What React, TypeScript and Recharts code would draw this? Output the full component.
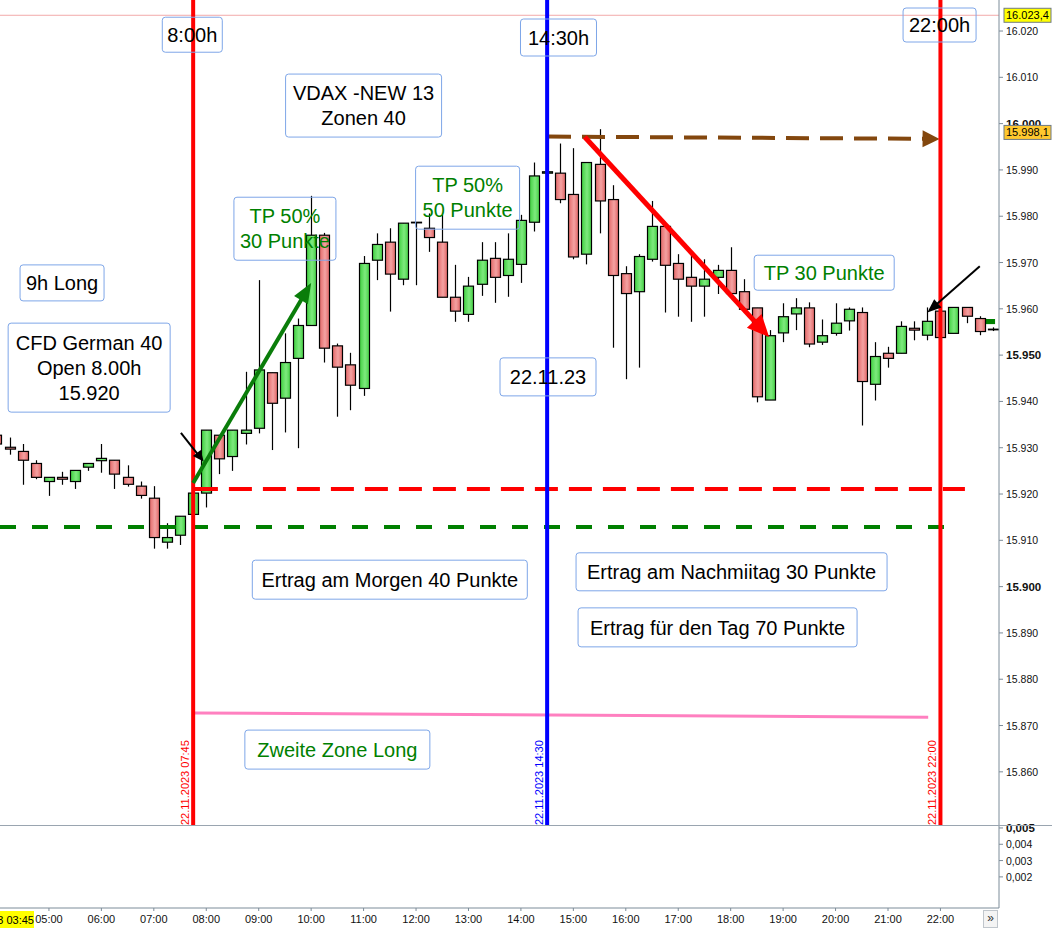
import { Bar, ComposedChart, Line, ReferenceArea, ReferenceDot, ReferenceLine, XAxis, YAxis } from 'recharts';

const FONT = '"Liberation Sans", Arial, sans-serif';
const AXIS = '#7d8c99';

// 15-min candles, CFD German 40, 22.11.2023
const TIMES = [
  '04:00', '04:15', '04:30', '04:45', '05:00', '05:15', '05:30', '05:45',
  '06:00', '06:15', '06:30', '06:45', '07:00', '07:15', '07:30', '07:45',
  '08:00', '08:15', '08:30', '08:45', '09:00', '09:15', '09:30', '09:45',
  '10:00', '10:15', '10:30', '10:45', '11:00', '11:15', '11:30', '11:45',
  '12:00', '12:15', '12:30', '12:45', '13:00', '13:15', '13:30', '13:45',
  '14:00', '14:15', '14:30', '14:45', '15:00', '15:15', '15:30', '15:45',
  '16:00', '16:15', '16:30', '16:45', '17:00', '17:15', '17:30', '17:45',
  '18:00', '18:15', '18:30', '18:45', '19:00', '19:15', '19:30', '19:45',
  '20:00', '20:15', '20:30', '20:45', '21:00', '21:15', '21:30', '21:45',
  '22:00', '22:15', '22:30', '22:45', '23:00',
];
const OPEN = [
  15932.7, 15930.1, 15929.2, 15926.6, 15922.7, 15923.6, 15922.7, 15925.8,
  15927.2, 15927.3, 15923.6, 15921.7, 15919.1, 15909.6, 15911.1, 15915.6,
  15920.2, 15932.7, 15928.1, 15933.1, 15934.2, 15946.2, 15940.7, 15949.3,
  15956.4, 15975.9, 15952.0, 15947.9, 15942.8, 15970.5, 15974.4, 15966.4,
  15978.6, 15977.4, 15974.4, 15962.5, 15958.8, 15965.3, 15970.9, 15967.2,
  15969.6, 15978.7, 15989.3, 15989.3, 15984.7, 15971.8, 15991.2, 15983.6,
  15967.6, 15963.7, 15970.7, 15977.8, 15969.8, 15966.8, 15964.9, 15966.8,
  15968.3, 15963.7, 15960.2, 15940.3, 15954.8, 15958.9, 15960.2, 15952.8,
  15954.7, 15957.4, 15959.2, 15943.7, 15950.4, 15950.4, 15955.8, 15954.3,
  15959.5, 15954.7, 15960.3, 15957.9, 15955.5,
];
const HIGH = [
  15933.5, 15932.2, 15930.8, 15927.3, 15923.6, 15924.8, 15925.1, 15926.6,
  15930.8, 15927.3, 15926.2, 15922.7, 15921.7, 15913.7, 15915.2, 15920.2,
  15933.8, 15932.7, 15933.8, 15946.4, 15966.2, 15946.2, 15954.7, 15957.9,
  15984.4, 15976.4, 15952.5, 15950.5, 15971.4, 15976.3, 15977.4, 15978.5,
  15978.7, 15980.6, 15980.3, 15969.5, 15966.9, 15974.4, 15974.4, 15976.3,
  15980.3, 15991.6, 15989.6, 15995.7, 15994.7, 15991.6, 15998.8, 15986.7,
  15969.2, 15971.8, 15983.3, 15977.8, 15971.8, 15971.8, 15970.7, 15969.5,
  15973.3, 15966.4, 15960.2, 15955.4, 15961.2, 15962.3, 15961.4, 15957.7,
  15961.2, 15960.3, 15960.3, 15952.8, 15951.8, 15957.3, 15957.3, 15960.3,
  15960.0, 15960.3, 15960.3, 15958.4, 15956.0,
];
const LOW = [
  15930.0, 15928.5, 15922.0, 15923.2, 15919.6, 15922.0, 15921.1, 15925.0,
  15924.6, 15921.1, 15921.6, 15919.0, 15908.2, 15908.2, 15909.0, 15915.6,
  15917.1, 15924.3, 15925.0, 15930.7, 15933.1, 15929.5, 15933.3, 15929.9,
  15956.4, 15948.4, 15936.7, 15938.1, 15941.2, 15966.2, 15959.4, 15965.1,
  15965.1, 15972.3, 15962.5, 15957.2, 15957.2, 15962.8, 15961.3, 15962.6,
  15965.6, 15976.7, 15989.3, 15982.8, 15970.7, 15969.6, 15976.3, 15951.6,
  15944.8, 15947.3, 15970.2, 15959.2, 15958.3, 15957.2, 15958.3, 15963.2,
  15962.5, 15959.5, 15939.8, 15940.3, 15952.8, 15955.4, 15951.7, 15952.2,
  15954.2, 15955.3, 15934.8, 15940.2, 15947.3, 15950.4, 15953.2, 15953.2,
  15953.8, 15954.7, 15956.9, 15954.3, 15955.2,
];
const CLOSE = [
  15930.8, 15929.7, 15927.3, 15923.6, 15923.6, 15923.2, 15925.1, 15926.6,
  15927.7, 15924.3, 15922.1, 15919.7, 15910.6, 15910.6, 15915.2, 15920.2,
  15933.8, 15927.6, 15933.8, 15933.8, 15946.8, 15939.6, 15948.4, 15956.4,
  15975.9, 15951.5, 15947.4, 15943.5, 15969.8, 15973.9, 15967.5, 15978.5,
  15978.7, 15975.4, 15962.5, 15959.5, 15964.9, 15970.5, 15966.8, 15970.7,
  15979.1, 15988.7, 15989.6, 15983.6, 15971.2, 15991.6, 15983.3, 15967.2,
  15963.3, 15971.3, 15977.8, 15969.4, 15966.4, 15964.9, 15966.4, 15968.3,
  15963.3, 15959.9, 15941.0, 15954.2, 15958.3, 15960.2, 15952.4, 15954.2,
  15956.9, 15959.9, 15944.3, 15949.7, 15949.3, 15956.2, 15955.4, 15957.3,
  15953.8, 15960.3, 15958.4, 15955.1, 15955.6,
];

const HOUR_LABELS = [
  '05:00', '06:00', '07:00', '08:00', '09:00', '10:00', '11:00', '12:00', '13:00',
  '14:00', '15:00', '16:00', '17:00', '18:00', '19:00', '20:00', '21:00', '22:00',
];
const PRICE_TICKS = [
  15860, 15870, 15880, 15890, 15900, 15910, 15920, 15930, 15940,
  15950, 15960, 15970, 15980, 15990, 16000, 16010, 16020,
];
const IND_TICKS = [0.002, 0.003, 0.004, 0.005];

const DAY_HIGH = 16023.4;
const TARGET = 15998.1;

const SESSION_LINES = [
  { time: '07:45', color: '#ff0000', label: '22.11.2023 07:45' },
  { time: '14:30', color: '#0000ff', label: '22.11.2023 14:30' },
  { time: '22:00', color: '#ff0000', label: '22.11.2023 22:00' },
];

const ANNOTATIONS = [
  { lines: ['8:00h'], time: '07:44', price: 16019.2, w: 60, h: 35, color: '#000' },
  { lines: ['14:30h'], time: '14:43', price: 16018.6, w: 76, h: 37, color: '#000' },
  { lines: ['22:00h'], time: '21:59', price: 16021.3, w: 73, h: 34, color: '#000' },
  { lines: ['VDAX -NEW 13', 'Zonen 40'], time: '11:00', price: 16003.9, w: 156, h: 63, color: '#000' },
  { lines: ['TP 50%', '30 Punkte'], time: '09:30', price: 15977.3, w: 102, h: 63, color: '#008000' },
  { lines: ['TP 50%', '50 Punkte'], time: '12:59', price: 15984.0, w: 104, h: 63, color: '#008000' },
  { lines: ['9h Long'], time: '05:15', price: 15965.6, w: 84, h: 36, color: '#000' },
  { lines: ['CFD German 40', 'Open 8.00h', '15.920'], time: '05:46', price: 15947.3, w: 162, h: 89, color: '#000' },
  { lines: ['22.11.23'], time: '14:31', price: 15945.3, w: 96, h: 38, color: '#000' },
  { lines: ['TP 30 Punkte'], time: '19:47', price: 15967.8, w: 140, h: 35, color: '#008000' },
  { lines: ['Ertrag am Morgen 40 Punkte'], time: '11:30', price: 15901.5, w: 275, h: 39, color: '#000' },
  { lines: ['Ertrag am Nachmiitag 30 Punkte'], time: '18:01', price: 15903.2, w: 311, h: 38, color: '#000' },
  { lines: ['Ertrag für den Tag 70 Punkte'], time: '17:45', price: 15891.2, w: 279, h: 39, color: '#000' },
  { lines: ['Zweite Zone Long'], time: '10:30', price: 15864.8, w: 185, h: 39, color: '#008000' },
];

const ARROWS = [
  { from: ['07:45', 15922.4], to: ['10:00', 15965.6], color: '#0a7d0a', width: 4, head: 20, headW: 16 },
  { from: ['15:13', 15997.1], to: ['18:44', 15953.9], color: '#ff0000', width: 5, head: 22, headW: 20 },
  { from: ['07:31', 15933.2], to: ['07:57', 15927.0], color: '#000', width: 2, head: 11, headW: 10 },
  { from: ['22:45', 15969.2], to: ['21:45', 15959.2], color: '#000', width: 2, head: 14, headW: 11 },
];

const toMin = (s: string) => {
  const [h, m] = s.split(':').map(Number);
  return h * 60 + m;
};

const X_DOMAIN = [244, 1387];
const Y_DOMAIN = [15848.3, 16026.7];

const candles = TIMES.map((t, i) => ({
  t: toMin(t),
  range: [LOW[i], HIGH[i]],
  o: OPEN[i],
  h: HIGH[i],
  l: LOW[i],
  c: CLOSE[i],
}));

const fmtPrice = (v: number) => {
  const s = Math.round(v).toString();
  return `${s.slice(0, -3)}.${s.slice(-3)}`;
};

function Candle(props: any) {
  const { x, y, width, height, payload } = props;
  if (!payload || x == null) return null;
  const { o, h, l, c } = payload;
  const cx = Math.round(x + width / 2) + 0.5;
  const top = Math.min(y, y + height);
  const bot = Math.max(y, y + height);
  const k = h - l > 0 ? (bot - top) / (h - l) : 0;
  const py = (v: number) => top + (h - v) * k;
  const up = c >= o;
  const bt = py(Math.max(o, c));
  const bb = py(Math.min(o, c));
  return (
    <g>
      <line x1={cx} x2={cx} y1={top} y2={bot} stroke="#000" strokeWidth={1.2} />
      <rect
        x={cx - 5}
        y={bt}
        width={10}
        height={Math.max(bb - bt, 0.6)}
        fill={up ? 'url(#candle-up)' : 'url(#candle-down)'}
        stroke="#000"
        strokeWidth={1.2}
      />
    </g>
  );
}

function PriceTick({ x, y, payload }: any) {
  const bold = payload.value % 50 === 0;
  return (
    <text x={x} y={y} dy={4} textAnchor="start" fontSize={bold ? 11.5 : 10.5} fontWeight={bold ? 'bold' : 'normal'} fontFamily={FONT} fill="#111">
      {fmtPrice(payload.value)}
    </text>
  );
}

function IndTick({ x, y, payload }: any) {
  const bold = payload.value === 0.005;
  return (
    <text x={x} y={y} dy={4} textAnchor="start" fontSize={bold ? 11.5 : 10.5} fontWeight={bold ? 'bold' : 'normal'} fontFamily={FONT} fill="#111">
      {payload.value.toFixed(3).replace('.', ',')}
    </text>
  );
}

const arrowShape = (color: string, width: number, head: number, headW: number, dash?: string) =>
  (p: any) => {
    const { x1, y1, x2, y2 } = p;
    const dx = x2 - x1;
    const dy = y2 - y1;
    const len = Math.hypot(dx, dy) || 1;
    const ux = dx / len;
    const uy = dy / len;
    const bx = x2 - ux * head;
    const by = y2 - uy * head;
    const nx = -uy;
    const ny = ux;
    return (
      <g>
        <line x1={x1} y1={y1} x2={bx + ux * 2} y2={by + uy * 2} stroke={color} strokeWidth={width} strokeDasharray={dash} />
        <polygon
          points={`${x2},${y2} ${bx + (nx * headW) / 2},${by + (ny * headW) / 2} ${bx - (nx * headW) / 2},${by - (ny * headW) / 2}`}
          fill={color}
        />
      </g>
    );
  };

function PriceMarker({ viewBox, value, bg }: any) {
  if (!viewBox) return null;
  const x = viewBox.x + viewBox.width + 5;
  const y = viewBox.y;
  return (
    <g>
      <rect x={x} y={y - 7} width={47} height={14} fill={bg} stroke="#6f7a84" strokeWidth={1} />
      <text x={x + 2} y={y} dy={4} fontSize={11} fontFamily={FONT} fill="#000">
        {value}
      </text>
    </g>
  );
}

function AnnotationBox({ cx, cy, a }: any) {
  const n = a.lines.length;
  const lh = 25;
  return (
    <g>
      <rect x={cx - a.w / 2} y={cy - a.h / 2} width={a.w} height={a.h} rx={3} fill="none" stroke="#7ea6e8" strokeWidth={1} />
      {a.lines.map((s: string, i: number) => (
        <text key={i} x={cx} y={cy + (i - (n - 1) / 2) * lh} dy="0.36em" textAnchor="middle" fontSize={20} fontFamily={FONT} fill={a.color}>
          {s}
        </text>
      ))}
    </g>
  );
}

export default function App() {
  return (
    <div style={{ position: 'relative', width: 1052, height: 928, background: '#fff', fontFamily: FONT, overflow: 'hidden' }}>
      <style>{'body{margin:0}'}</style>
      <ComposedChart width={1052} height={826} data={candles} margin={{ top: 0, right: 0, bottom: 0, left: 0 }}>
        <defs>
          <linearGradient id="candle-up" x1="0" y1="0" x2="1" y2="0">
            <stop offset="0%" stopColor="#3fcf3f" />
            <stop offset="55%" stopColor="#7eea7e" />
            <stop offset="100%" stopColor="#44cf44" />
          </linearGradient>
          <linearGradient id="candle-down" x1="0" y1="0" x2="1" y2="0">
            <stop offset="0%" stopColor="#e36868" />
            <stop offset="55%" stopColor="#f4a2a2" />
            <stop offset="100%" stopColor="#e06464" />
          </linearGradient>
        </defs>
        <XAxis type="number" dataKey="t" domain={X_DOMAIN} hide allowDataOverflow />
        <YAxis
          orientation="right"
          width={53}
          domain={Y_DOMAIN}
          ticks={PRICE_TICKS}
          interval={0}
          allowDataOverflow
          tick={PriceTick}
          tickSize={4}
          tickMargin={3}
          stroke={AXIS}
        />
        <Bar dataKey="range" barSize={11} shape={Candle} isAnimationActive={false} />

        <ReferenceLine y={DAY_HIGH} stroke="#f3a9a9" strokeWidth={1} />

        <ReferenceLine
          segment={[{ x: toMin('14:31'), y: 15997.2 }, { x: toMin('21:59'), y: 15996.7 }]}
          shape={arrowShape('#83470e', 4, 17, 17, '23 11')}
        />
        <ReferenceLine
          segment={[{ x: toMin('07:47'), y: 15921.1 }, { x: toMin('22:28'), y: 15921.1 }]}
          stroke="#ff0000"
          strokeWidth={4}
          strokeDasharray="23 11"
        />
        <ReferenceLine
          segment={[{ x: X_DOMAIN[0], y: 15912.9 }, { x: toMin('22:17'), y: 15912.9 }]}
          stroke="#008000"
          strokeWidth={4}
          strokeDasharray="16 16"
        />
        <ReferenceLine
          segment={[{ x: toMin('07:47'), y: 15872.7 }, { x: toMin('21:46'), y: 15871.8 }]}
          stroke="#ff80c0"
          strokeWidth={3}
        />
        <ReferenceArea x1={1364} x2={1382.5} y1={15956.7} y2={15957.8} fill="#008000" fillOpacity={1} stroke="none" />

        {SESSION_LINES.map((s) => (
          <ReferenceLine
            key={s.time}
            x={toMin(s.time)}
            stroke={s.color}
            strokeWidth={4}
            label={(p: any) => {
              const vb = p.viewBox;
              if (!vb) return null;
              const bx = vb.x - 4;
              const by = vb.y + vb.height - 1;
              return (
                <text x={bx} y={by} transform={`rotate(-90 ${bx} ${by})`} fontSize={11} fontFamily={FONT} fill={s.color}>
                  {s.label}
                </text>
              );
            }}
          />
        ))}

        {ARROWS.map((a, i) => (
          <ReferenceLine
            key={`arrow-${i}`}
            segment={[
              { x: toMin(a.from[0] as string), y: a.from[1] as number },
              { x: toMin(a.to[0] as string), y: a.to[1] as number },
            ]}
            shape={arrowShape(a.color, a.width, a.head, a.headW)}
          />
        ))}

        {ANNOTATIONS.map((a, i) => (
          <ReferenceDot
            key={`note-${i}`}
            x={toMin(a.time)}
            y={a.price}
            r={1}
            shape={(p: any) => <AnnotationBox cx={p.cx} cy={p.cy} a={a} />}
          />
        ))}
      </ComposedChart>

      {/* overlay with the same scales so the price markers sit above the axis labels */}
      <div style={{ position: 'absolute', left: 0, top: 0, pointerEvents: 'none' }}>
        <ComposedChart width={1052} height={826} data={candles} margin={{ top: 0, right: 0, bottom: 0, left: 0 }}>
          <XAxis type="number" dataKey="t" domain={X_DOMAIN} hide allowDataOverflow />
          <YAxis orientation="right" width={53} domain={Y_DOMAIN} allowDataOverflow tick={false} axisLine={false} tickLine={false} />
          <Line dataKey="none" dot={false} stroke="none" isAnimationActive={false} />
          <ReferenceLine
            y={DAY_HIGH}
            stroke="none"
            label={(p: any) => <PriceMarker viewBox={p.viewBox} value="16.023,4" bg="#ffff00" />}
          />
          <ReferenceLine
            y={TARGET}
            stroke="none"
            label={(p: any) => <PriceMarker viewBox={p.viewBox} value="15.998,1" bg="#ffc82e" />}
          />
        </ComposedChart>
      </div>

      <div style={{ position: 'absolute', left: 0, top: 816 }}>
        <ComposedChart width={1052} height={112} data={candles} margin={{ top: 10, right: 0, bottom: 0, left: 0 }}>
          <XAxis
            type="number"
            dataKey="t"
            domain={X_DOMAIN}
            allowDataOverflow
            ticks={HOUR_LABELS.map(toMin)}
            interval={0}
            tickFormatter={(v: number) => HOUR_LABELS[HOUR_LABELS.map(toMin).indexOf(v)] ?? ''}
            height={20}
            tickSize={3}
            tickMargin={4}
            tick={{ fontSize: 11, fill: '#111', fontFamily: FONT }}
            stroke={AXIS}
          />
          <YAxis
            orientation="right"
            width={53}
            domain={[0.000092, 0.00512]}
            ticks={IND_TICKS}
            interval={0}
            allowDataOverflow
            tick={IndTick}
            tickSize={4}
            tickMargin={3}
            stroke={AXIS}
          />
          <Line dataKey="ind" dot={false} stroke="none" isAnimationActive={false} />
        </ComposedChart>
      </div>

      <div style={{ position: 'absolute', left: 0, top: 825, width: 1052, height: 1, background: '#9aa5b0' }} />

      <div
        style={{
          position: 'absolute', left: 0, top: 911, width: 34, height: 17, background: '#ffff00',
          display: 'flex', justifyContent: 'flex-end', alignItems: 'center', overflow: 'hidden',
          fontSize: 11, whiteSpace: 'nowrap', color: '#000',
        }}
      >
        <span style={{ flexShrink: 0 }}>22.11.2023 03:45</span>
      </div>
      <div
        style={{
          position: 'absolute', left: 983, top: 910, width: 15, height: 18, border: '1px solid #c0c6cc',
          boxSizing: 'border-box', background: '#f4f4f4', fontSize: 12, textAlign: 'center', lineHeight: '15px', color: '#333',
        }}
      >
        »
      </div>
    </div>
  );
}
